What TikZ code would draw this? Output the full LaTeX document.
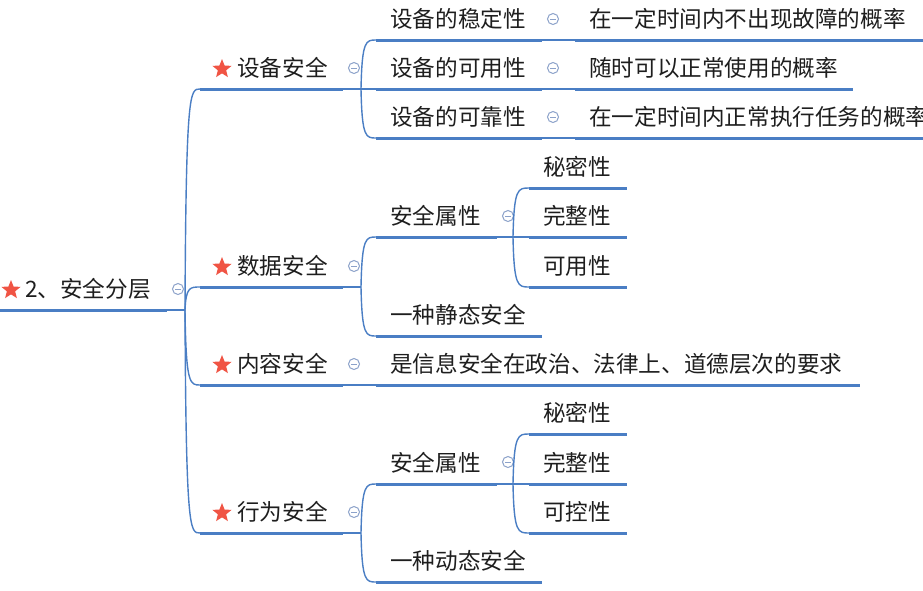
\documentclass[tikz,border=0pt]{standalone}
\usepackage{fontspec}
\setmainfont{Noto Sans CJK SC}
\usetikzlibrary{shapes.geometric,calc}
\definecolor{lineblue}{RGB}{74,126,196}
\definecolor{starred}{RGB}{240,84,68}
\definecolor{iconc}{RGB}{140,162,202}
\definecolor{txtc}{RGB}{30,30,30}
\begin{document}
\begin{tikzpicture}[x=1pt,y=-1pt,
  topic/.style 2 args={anchor=south west, inner sep=0pt, text width=#1, minimum height=42pt,
    align=left, text height=19.6pt, text depth=2.6pt, font=\fontsize{22.6}{26}\selectfont,
    text=txtc, execute at begin node={\hspace*{#2}}},
  uline/.style={draw=lineblue, line width=3pt},
  conn/.style={draw=lineblue, line width=1.4pt},
  branch/.style={conn, to path={let \p1=(\tikztostart), \p2=(\tikztotarget) in
    (\p1) .. controls (\x1+1pt,\y2) and (\x1+5pt,\y2) .. (\p2)}},
  starmark/.style={star, star points=5, star point ratio=2.3, fill=starred, draw=none,
    minimum size=20pt, inner sep=0pt},
  fold/.style={circle, draw=iconc, line width=1pt, minimum size=11pt, inner sep=0pt,
    path picture={\draw[iconc, line width=1pt]
      ([xshift=-2.8pt]path picture bounding box.center) --
      ([xshift=2.8pt]path picture bounding box.center);}},
]
\fill[white] (0,0) rectangle (923,590);
\path[use as bounding box, clip] (0,0) rectangle (923,590);

% root
\node[topic={167pt}{25pt}] (root) at (0,310) {2、安全分层};
\node[starmark] (rs) at (11,290) {};
\node[fold] (f0) at (178,289) {};
\coordinate (rj) at (185,310);

% level 1
\node[topic={143pt}{37pt}] (dev) at (200,89) {设备安全};
\node[topic={143pt}{37pt}] (dat) at (200,287) {数据安全};
\node[topic={143pt}{37pt}] (con) at (200,385) {内容安全};
\node[topic={143pt}{37pt}] (beh) at (200,533) {行为安全};
\node[starmark] (s1) at (222,69) {};
\node[starmark] (s2) at (222,267) {};
\node[starmark] (s3) at (222,365) {};
\node[starmark] (s4) at (222,513) {};
\node[fold] (f1) at (354,68) {};
\node[fold] (f2) at (354,266) {};
\node[fold] (f3) at (354,364) {};
\node[fold] (f4) at (354,512) {};
\coordinate (devj) at (361,89);
\coordinate (datj) at (361,287);
\coordinate (behj) at (361,533);

% 设备安全
\node[topic={166pt}{14pt}] (d1) at (376,40) {设备的稳定性};
\node[topic={166pt}{14pt}] (d2) at (376,89) {设备的可用性};
\node[topic={166pt}{14pt}] (d3) at (376,138) {设备的可靠性};
\node[fold] (g1) at (553,19) {};
\node[fold] (g2) at (553,68) {};
\node[fold] (g3) at (553,117) {};
\node[topic={370pt}{14pt}] (d1a) at (575,40) {在一定时间内不出现故障的概率};
\node[topic={278pt}{14pt}] (d2a) at (575,89) {随时可以正常使用的概率};
\node[topic={390pt}{14pt}] (d3a) at (575,138) {在一定时间内正常执行任务的概率};

% 数据安全
\node[topic={121pt}{14pt}] (da1) at (376,237) {安全属性};
\node[topic={166pt}{14pt}] (da2) at (376,336) {一种静态安全};
\node[fold] (h1) at (508,216) {};
\coordinate (da1j) at (513,237);
\node[topic={98pt}{14pt}] (da1a) at (529,188) {秘密性};
\node[topic={98pt}{14pt}] (da1b) at (529,237) {完整性};
\node[topic={98pt}{14pt}] (da1c) at (529,287) {可用性};

% 内容安全
\node[topic={484pt}{14pt}] (ca1) at (376,385) {是信息安全在政治、法律上、道德层次的要求};

% 行为安全
\node[topic={121pt}{14pt}] (ba1) at (376,484) {安全属性};
\node[topic={166pt}{14pt}] (ba2) at (376,582) {一种动态安全};
\node[fold] (h2) at (508,462) {};
\coordinate (ba1j) at (513,484);
\node[topic={98pt}{14pt}] (ba1a) at (529,434) {秘密性};
\node[topic={98pt}{14pt}] (ba1b) at (529,484) {完整性};
\node[topic={98pt}{14pt}] (ba1c) at (529,533) {可控性};

% underlines
\foreach \n in {root,dev,dat,con,beh,d1,d2,d3,d1a,d2a,d3a,da1,da2,da1a,da1b,da1c,ca1,ba1,ba2,ba1a,ba1b,ba1c}
  \draw[uline] (\n.south west) -- (\n.south east);

% connectors
\draw[conn] (root.south east) -- (rj);
\foreach \c in {dev,dat,con,beh} \draw[branch] (rj) to (\c.south west);

\draw[conn] (dev.south east) -- (devj);
\foreach \c in {d1,d2,d3} \draw[branch] (devj) to (\c.south west);
\draw[conn] (d1.south east) -- (d1a.south west);
\draw[conn] (d2.south east) -- (d2a.south west);
\draw[conn] (d3.south east) -- (d3a.south west);

\draw[conn] (dat.south east) -- (datj);
\foreach \c in {da1,da2} \draw[branch] (datj) to (\c.south west);
\draw[conn] (da1.south east) -- (da1j);
\foreach \c in {da1a,da1b,da1c} \draw[branch] (da1j) to (\c.south west);

\draw[conn] (con.south east) -- (ca1.south west);

\draw[conn] (beh.south east) -- (behj);
\foreach \c in {ba1,ba2} \draw[branch] (behj) to (\c.south west);
\draw[conn] (ba1.south east) -- (ba1j);
\foreach \c in {ba1a,ba1b,ba1c} \draw[branch] (ba1j) to (\c.south west);
\end{tikzpicture}
\end{document}
